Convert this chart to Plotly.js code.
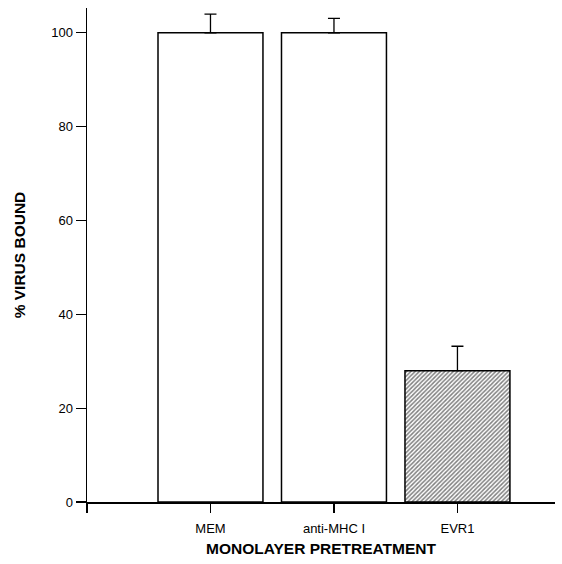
<!DOCTYPE html>
<html>
<head>
<meta charset="utf-8">
<script src="https://cdn.plot.ly/plotly-3.0.1.min.js"></script>
<style>html,body{margin:0;padding:0;background:#fff;}</style>
</head>
<body>
<div id="chart" style="width:562px;height:564px;"></div>
<script>
const categories = ['MEM', 'anti-MHC I', 'EVR1'];
const positions = [1, 2, 3];
const values = [100, 100, 28];
const errors = [4.0, 3.1, 5.2];
const yTickVals = [0, 20, 40, 60, 80, 100];

const fillColors = ['#ffffff', '#ffffff', '#808080'];
const patternShapes = ['', '', '/'];

const trace = {
  type: 'bar',
  x: positions,
  y: values,
  width: 0.85,
  marker: {
    color: fillColors,
    line: {color: '#000', width: 1.5},
    pattern: {shape: patternShapes, fgcolor: '#222222', bgcolor: '#959595', size: 3, solidity: 0.5}
  },
  error_y: {type: 'data', array: errors, arrayminus: [0, 0, 0], symmetric: false, color: '#000', thickness: 1.3, width: 6},
  hoverinfo: 'none'
};

const layout = {
  width: 562, height: 564,
  margin: {l: 87, r: 7, t: 8, b: 62},
  paper_bgcolor: '#fff', plot_bgcolor: '#fff',
  showlegend: false,
  font: {family: 'Liberation Sans, Arial, sans-serif', color: '#000'},
  xaxis: {
    range: [0, 3.79],
    tickvals: [0].concat(positions),
    ticktext: [''].concat(categories),
    showgrid: false, zeroline: false,
    showline: true, linecolor: '#000', linewidth: 1.5,
    ticks: 'outside', ticklen: 9, tickwidth: 1.5, tickcolor: '#000',
    ticklabelstandoff: 5,
    tickfont: {size: 13, color: '#000'},
    title: {text: '<b>MONOLAYER PRETREATMENT</b>', font: {size: 15.5, color: '#000'}, standoff: 8}
  },
  yaxis: {
    range: [0, 105.3],
    tickvals: yTickVals,
    showgrid: false, zeroline: false,
    showline: true, linecolor: '#000', linewidth: 1.5,
    ticks: 'outside', ticklen: 10, tickwidth: 1.2, tickcolor: '#000',
    tickfont: {size: 13, color: '#000'},
    title: {text: '<b>% VIRUS BOUND</b>', font: {size: 15.5, color: '#000'}, standoff: 22}
  }
};

Plotly.newPlot('chart', [trace], layout, {staticPlot: true, displayModeBar: false});
</script>
</body>
</html>
